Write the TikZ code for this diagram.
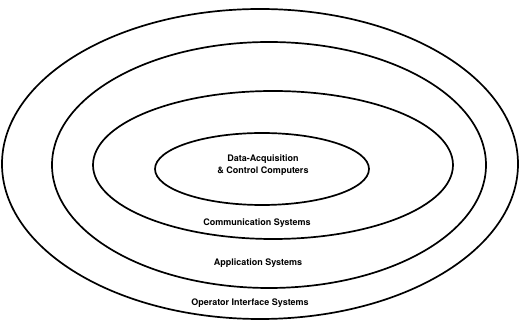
\documentclass[tikz,border=0pt]{standalone}
\usepackage{fontspec}
\setmainfont{TeX Gyre Heros}
\usepackage{tikz}

\tikzset{ring/.style={line width=1.7pt}, lbl/.style={font=\bfseries\fontsize{9}{10.5}\selectfont, align=center, inner sep=1pt}}

\begin{document}
\begin{tikzpicture}[x=1pt,y=-1pt]
			\useasboundingbox (0,0) rectangle (520,320);
			\draw[ring] (260,164) ellipse [x radius=258pt, y radius=155pt];
			\draw[ring] (269,165) ellipse [x radius=217pt, y radius=123pt];
			\draw[ring] (273,165) ellipse [x radius=180pt, y radius=74pt];
			\draw[ring] (262,169) ellipse [x radius=107pt, y radius=36pt];
			\node[lbl] (dacc) at (263,165) {Data-Acquisition\\[2pt]\& Control Computers};
			\node[lbl] (comm) at (257,223) {Communication Systems};
			\node[lbl] (appl) at (258,263) {Application Systems};
			\node[lbl] (oper) at (250,303) {Operator Interface Systems};
		\end{tikzpicture}
\end{document}
